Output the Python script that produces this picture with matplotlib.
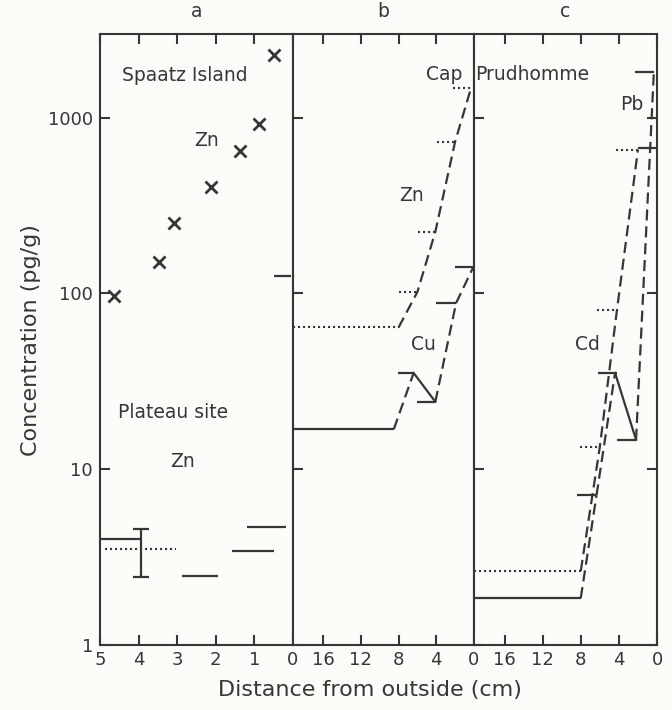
#%%
"""
Zn, Cu, Cd and Pb concentration profiles: Spaatz Island / Plateau site (a)
and Cap Prudhomme (b, c), plotted against distance from the outside.
"""

import matplotlib
matplotlib.use('Agg')
import matplotlib.pyplot as plt
from matplotlib.ticker import FixedLocator, NullLocator

ink = '#363636'
paper = '#fcfcf9'
dashed = (0, (5, 2.6))
dotted = (0, (1, 1.4))
deep = 19.2  # left edge of panels b and c (cm)

# panel a - Spaatz Island, Zn (crosses)
spaatz_x = [4.65, 3.47, 3.07, 2.12, 1.38, 0.88, 0.5]
spaatz_zn = [97, 151, 252, 404, 648, 923, 2280]
spaatz_bar = [0.49, 0.05, 126]

# panel a - Plateau site, Zn
plateau_inner = 4.0
plateau_err_x = 3.95
plateau_err = [2.44, 4.57]
plateau_dotted = [4.86, 3.03, 3.52]
plateau_left = [2.87, 1.59, 1.2]
plateau_right = [1.95, 0.5, 0.19]
plateau_val = [2.47, 3.43, 4.69]

# panel b - Cap Prudhomme, Zn (dotted steps) and Cu (solid steps)
zn_x = [8.0, 6.0, 4.1, 2.0, 0.3]
zn_val = [64, 102, 224, 729, 1480]
zn_step_left = [8.0, 5.9, 3.9, 2.2]
cu_x = [8.5, 6.4, 4.1, 1.9, 0.05]
cu_val = [16.9, 35.3, 24.2, 88, 142]
cu_step_left = [8.1, 6.0, 4.0, 2.0]
cu_seg = [dashed, '-', dashed, dashed]

# panel c - Cap Prudhomme, Cd (dotted steps) and Pb (solid steps)
cd_x = [8.0, 6.0, 4.2, 2.0]
cd_val = [2.64, 13.4, 80.7, 656]
cd_step_left = [8.1, 6.25, 4.3]
cd_top = [2.0, 0.1, 675]
pb_x = [8.0, 6.35, 4.4, 2.2, 0.33]
pb_val = [1.85, 7.1, 35.3, 14.7, 1820]
pb_step_left = [8.4, 6.2, 4.2, 2.3]
pb_step_right = [6.35, 4.2, 2.2, 0.33]
pb_seg = [dashed, dashed, '-', dashed]

plt.rcParams['font.family'] = 'DejaVu Sans'
fs = 13.5

fig = plt.figure(figsize=(6.72, 7.10), dpi=100, facecolor=paper)
bottom, height = 0.0915, 0.861
ax_a = fig.add_axes([0.1488, bottom, 0.2872, height])
ax_b = fig.add_axes([0.4360, bottom, 0.2693, height])
ax_c = fig.add_axes([0.7054, bottom, 0.2723, height])

for ax in (ax_a, ax_b, ax_c):
    ax.set_facecolor(paper)
    ax.set_yscale('log')
    ax.set_ylim(1, 3000)
    for s in ax.spines.values():
        s.set_color(ink)
        s.set_linewidth(1.5)
    ax.yaxis.set_major_locator(FixedLocator([1, 10, 100, 1000]))
    ax.yaxis.set_minor_locator(NullLocator())
    ax.tick_params(axis='both', which='major', direction='in', length=7,
                   width=1.5, color=ink, labelcolor=ink, labelsize=13,
                   top=True, bottom=True, left=True, right=False, pad=4)

ax_a.set_xlim(5, 0)
ax_a.set_xticks([5, 4, 3, 2, 1, 0])
ax_a.set_yticklabels(['1', '10', '100', '1000'])
ax_a.tick_params(axis='y', pad=5)
for ax in (ax_b, ax_c):
    ax.set_xlim(deep, 0)
    ax.set_xticks([16, 12, 8, 4, 0])
    ax.set_yticklabels([])
ax_c.tick_params(axis='y', right=True)

# --- panel a
ax_a.plot(spaatz_x, spaatz_zn, linestyle='none', marker='x', markersize=8.5,
          mew=2, color=ink)
ax_a.hlines(spaatz_bar[2], spaatz_bar[0], spaatz_bar[1], color=ink, lw=1.6)
ax_a.hlines(plateau_inner, 5, plateau_err_x, color=ink, lw=1.6)
ax_a.errorbar([plateau_err_x], [plateau_inner],
              yerr=[[plateau_inner - plateau_err[0]], [plateau_err[1] - plateau_inner]],
              fmt='none', ecolor=ink, elinewidth=1.6, capsize=6, capthick=1.6)
ax_a.hlines(plateau_dotted[2], plateau_dotted[0], plateau_dotted[1], color=ink,
            lw=1.5, linestyles=[dotted])
ax_a.hlines(plateau_val, plateau_left, plateau_right, color=ink, lw=1.6)

ax_a.text(0.44, 0.932, 'Spaatz Island', transform=ax_a.transAxes, ha='center',
          va='center', fontsize=fs, color=ink)
ax_a.text(0.55, 0.826, 'Zn', transform=ax_a.transAxes, ha='center', va='center',
          fontsize=fs, color=ink)
ax_a.text(0.38, 0.38, 'Plateau site', transform=ax_a.transAxes, ha='center',
          va='center', fontsize=fs, color=ink)
ax_a.text(0.43, 0.30, 'Zn', transform=ax_a.transAxes, ha='center', va='center',
          fontsize=fs, color=ink)

# --- panel b
ax_b.hlines(zn_val[0], deep, zn_x[0], color=ink, lw=1.5, linestyles=[dotted])
ax_b.hlines(zn_val[1:], zn_step_left, zn_x[1:], color=ink, lw=1.5,
            linestyles=[dotted])
ax_b.plot(zn_x, zn_val, color=ink, lw=1.6, linestyle=dashed)

ax_b.hlines(cu_val[0], deep, cu_x[0], color=ink, lw=1.6)
ax_b.hlines(cu_val[1:], cu_step_left, cu_x[1:], color=ink, lw=1.6)
for i, ls in enumerate(cu_seg):
    ax_b.plot(cu_x[i:i + 2], cu_val[i:i + 2], color=ink, lw=1.6, linestyle=ls)

ax_b.text(0.735, 0.933, 'Cap', transform=ax_b.transAxes, ha='left',
          va='center', fontsize=fs, color=ink)
ax_b.text(0.655, 0.735, 'Zn', transform=ax_b.transAxes, ha='center', va='center',
          fontsize=fs, color=ink)
ax_b.text(0.72, 0.491, 'Cu', transform=ax_b.transAxes, ha='center', va='center',
          fontsize=fs, color=ink)

# --- panel c
ax_c.hlines(cd_val[0], deep, cd_x[0], color=ink, lw=1.5, linestyles=[dotted])
ax_c.hlines(cd_val[1:], cd_step_left, cd_x[1:], color=ink, lw=1.5,
            linestyles=[dotted])
ax_c.plot(cd_x, cd_val, color=ink, lw=1.6, linestyle=dashed)
ax_c.hlines(cd_top[2], cd_top[0], cd_top[1], color=ink, lw=1.6)

ax_c.hlines(pb_val[0], deep, pb_x[0], color=ink, lw=1.6)
ax_c.hlines(pb_val[1:], pb_step_left, pb_step_right, color=ink, lw=1.6)
for i, ls in enumerate(pb_seg):
    ax_c.plot(pb_x[i:i + 2], pb_val[i:i + 2], color=ink, lw=1.6, linestyle=ls)

ax_c.text(0.005, 0.933, 'Prudhomme', transform=ax_c.transAxes, ha='left',
          va='center', fontsize=fs, color=ink)
ax_c.text(0.62, 0.491, 'Cd', transform=ax_c.transAxes, ha='center', va='center',
          fontsize=fs, color=ink)
ax_c.text(0.863, 0.884, 'Pb', transform=ax_c.transAxes, ha='center', va='center',
          fontsize=fs, color=ink)

# panel letters and axis titles
for ax, letter in ((ax_a, 'a'), (ax_b, 'b'), (ax_c, 'c')):
    ax.text(0.5, 1.02, letter, transform=ax.transAxes, ha='center',
            va='bottom', fontsize=fs, color=ink)

fig.text(0.046, 0.521, 'Concentration (pg/g)', rotation=90, ha='center',
         va='center', fontsize=16, color=ink)
fig.text(0.551, 0.028, 'Distance from outside (cm)', ha='center', va='center',
         fontsize=16, color=ink)

fig.savefig('out.png', dpi=100, facecolor=paper)
plt.close(fig)
